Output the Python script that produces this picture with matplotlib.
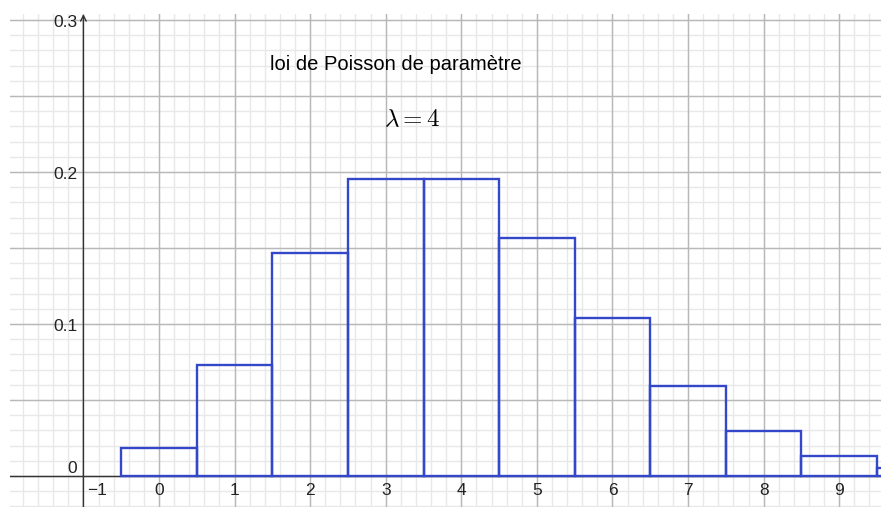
import numpy as np
import matplotlib.pyplot as plt

# loi de Poisson, lambda = 4 : P(X = k)
k_values = [0, 1, 2, 3, 4, 5, 6, 7, 8, 9, 10]
probas = [0.0183, 0.0733, 0.1465, 0.1954, 0.1954, 0.1563, 0.1042, 0.0595, 0.0298, 0.0132, 0.0053]

x_ticks = [-1, 0, 1, 2, 3, 4, 5, 6, 7, 8, 9]
y_ticks = [0, 0.1, 0.2, 0.3]
y_labels = ['0', '0.1', '0.2', '0.3']

titre = 'loi de Poisson de paramètre'
sous_titre = r'$\lambda = 4$'

plt.rcParams['font.family'] = ['Liberation Sans', 'DejaVu Sans']
plt.rcParams['mathtext.fontset'] = 'cm'

fig = plt.figure(figsize=(8.81, 5.07), dpi=100)
ax = fig.add_axes([10 / 881, 0, 871 / 881, 493 / 507])
xmin, xmax = -1.971, 9.553
ymin, ymax = -0.0204, 0.304
ax.set_xlim(xmin, xmax)
ax.set_ylim(ymin, ymax)
ax.axis('off')

# quadrillage : fin (0.2 / 0.01) puis principal (1 / 0.05)
for x in np.arange(-2, 10, 0.2):
    ax.axvline(x, color='#e8e8e8', lw=1, zorder=0)
for y in np.arange(-0.02, 0.31, 0.01):
    ax.axhline(y, color='#e8e8e8', lw=1, zorder=0)
for x in range(-2, 10):
    ax.axvline(x, color='#b8b8b8', lw=1, zorder=1)
for y in np.arange(0, 0.31, 0.05):
    ax.axhline(y, color='#b8b8b8', lw=1, zorder=1)

# axes
ax.axhline(0, color='#333333', lw=1, zorder=2)
ax.annotate('', xy=(-1, 0.304), xytext=(-1, ymin),
            arrowprops=dict(arrowstyle='->', color='#333333', lw=1,
                            shrinkA=0, shrinkB=0), zorder=2)

# histogramme
ax.bar(k_values, probas, width=1, fill=False, edgecolor='#3347c9',
       linewidth=1.7, zorder=3, clip_on=True)

# graduations
for x in x_ticks:
    lab = '\u22121' if x == -1 else str(x)
    dx = 0.18 if x == -1 else 0
    ax.text(x + dx, -0.0095, lab, ha='center', va='center',
            fontsize=12.5, color='#222222')
for y, lab in zip(y_ticks, y_labels):
    dy = 0.005 if y == 0 else -0.0015
    ax.text(-1.08, y + dy, lab, ha='right', va='center',
            fontsize=12.5, color='#222222')

ax.text(3.13, 0.2705, titre, ha='center', va='center', fontsize=14.5)
ax.text(3.35, 0.235, sous_titre, ha='center', va='center', fontsize=18)

fig.savefig('out.png', dpi=100)
